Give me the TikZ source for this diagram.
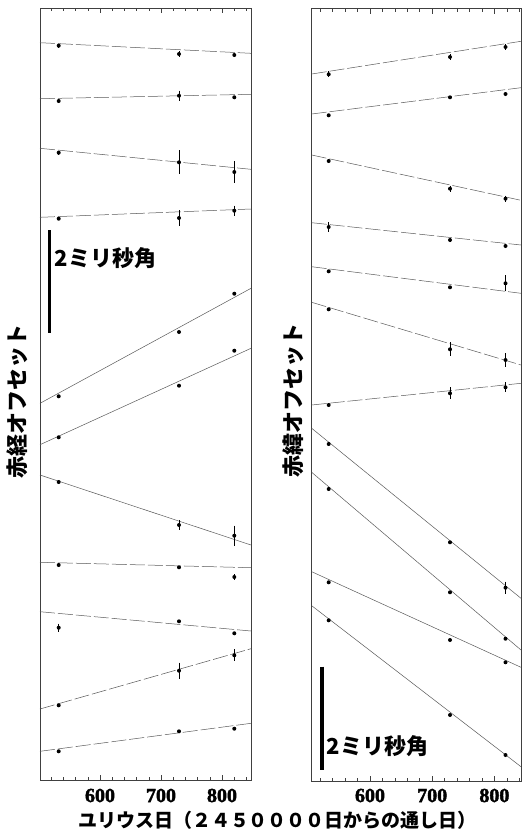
\documentclass[tikz,border=0pt]{standalone}
\usepackage{fontspec}
\setmainfont{Liberation Serif}
\newfontfamily\tickfont{Liberation Serif Bold}[FakeBold=2]
\newfontfamily\jpfont{Noto Sans CJK JP}
\usetikzlibrary{positioning}
\tikzset{
    frame/.style={draw=black!75, line width=0.8pt},
    fitsolid/.style={draw=black!65, line width=0.5pt},
    fitdash/.style={fitsolid, dash pattern=on 15pt off 3pt},
    dot/.style={circle, fill=black, draw=none, inner sep=0pt, minimum size=4pt},
    ebar/.style={draw=black, line width=0.8pt},
    scalebar/.style={draw=black, line width=3.6pt},
    ticklab/.style={font=\tickfont\fontsize{20}{20}\selectfont, inner sep=0pt},
    ylab/.style={font=\jpfont\bfseries\fontsize{22}{22}\selectfont, rotate=90, inner sep=0pt},
    barlab/.style={font=\jpfont\bfseries\fontsize{22}{22}\selectfont, anchor=west, inner sep=0pt},
    xlab/.style={font=\jpfont\bfseries\fontsize{19}{19}\selectfont, inner sep=0pt}
}

\begin{document}
\begin{tikzpicture}[x=1pt, y=-1pt]
    \useasboundingbox (0,0) rectangle (522,839);

    % left panel (right ascension)
    \coordinate (lnw) at (40,8);
    \coordinate (lse) at (251,780);
    \draw[frame] (lnw) rectangle (lse);
    \foreach \day in {520,540,...,840} {
        \draw[frame, line width=0.6pt] ({100+(\day-600)*0.61},780) -- ++(0,-3);
        \draw[frame, line width=0.6pt] ({100+(\day-600)*0.61},8) -- ++(0,3);
    }
    \foreach \day in {600,700,800} {
        \draw[frame, line width=0.6pt] ({100+(\day-600)*0.61},780) -- ++(0,-5);
        \draw[frame, line width=0.6pt] ({100+(\day-600)*0.61},8) -- ++(0,5);
        \node[ticklab] (lt\day) at ({100+(\day-600)*0.61},795.5) {\day};
    }

    \foreach \n/\s/\ya/\yb/\pa/\ea/\pb/\eb/\pc/\ec in {
        1/fitdash/42.7/53.3/45.7/2/54/3/55/2,
        2/fitdash/98.7/94.3/101/0/95.7/5/97.3/0,
        3/fitdash/148.3/169.3/152.7/2/162.3/12/172/11,
        4/fitdash/217.3/209/218.7/0/218/7.7/210.7/5,
        5/fitsolid/403.3/288.3/396.3/0/332/0/293.7/0,
        6/fitsolid/444.7/348.3/437.3/0/385.7/0/350.7/0,
        7/fitsolid/475/545/482/0/525/5/535.7/10,
        8/fitdash/562.3/567.7/565/0/567.3/0/577/3,
        9/fitdash/611.7/631/627.7/4/621.3/0/633.3/0,
        10/fitdash/709/648.7/705.3/0/670.7/8/655.3/6,
        11/fitdash/751.3/723.3/751.3/0/731.3/0/728.7/0} {
        \coordinate (l\n s) at (40,\ya);
        \coordinate (l\n e) at (251,\yb);
        \draw[\s] (l\n s) -- (l\n e);
        \node[dot] (l\n a) at (58.7,\pa) {};
        \node[dot] (l\n b) at (179,\pb) {};
        \node[dot] (l\n c) at (234.3,\pc) {};
        \draw[ebar] ([yshift=\ea pt]l\n a.center) -- ([yshift=-\ea pt]l\n a.center);
        \draw[ebar] ([yshift=\eb pt]l\n b.center) -- ([yshift=-\eb pt]l\n b.center);
        \draw[ebar] ([yshift=\ec pt]l\n c.center) -- ([yshift=-\ec pt]l\n c.center);
    }

    \coordinate (lbar1) at (49.3,230);
    \coordinate (lbar2) at (49.3,333);
    \draw[scalebar] (lbar1) -- (lbar2);
    \node[barlab] (lbartext) at (54.5,258.5) {2ミリ秒角};
    \node[ylab] (lylab) at (17.5,401.5) {赤経オフセット};

    % right panel (declination)
    \coordinate (rnw) at (311.7,8.5);
    \coordinate (rse) at (521,781);
    \draw[frame] (rnw) rectangle (rse);
    \foreach \day in {520,540,...,840} {
        \draw[frame, line width=0.6pt] ({370+(\day-600)*0.622},781) -- ++(0,-3);
        \draw[frame, line width=0.6pt] ({370+(\day-600)*0.622},8.5) -- ++(0,3);
    }
    \foreach \day in {600,700,800} {
        \draw[frame, line width=0.6pt] ({370+(\day-600)*0.622},781) -- ++(0,-5);
        \draw[frame, line width=0.6pt] ({370+(\day-600)*0.622},8.5) -- ++(0,5);
        \node[ticklab] (rt\day) at ({370+(\day-600)*0.622},795.5) {\day};
    }

    \foreach \n/\s/\ya/\yb/\pa/\ea/\pb/\eb/\pc/\ec in {
        1/fitdash/74/41.3/74.3/3/57/3/47/3,
        2/fitdash/114/87.7/115.3/0/97.3/0/94/0,
        3/fitdash/155/200.3/161/0/188.7/3/198.7/3,
        4/fitdash/222.7/245/227/5/240/2/246/0,
        5/fitdash/266.7/293.3/271.3/0/287.3/0/283.3/8,
        6/fitdash/302.3/365/309.3/0/349.3/7/360/7,
        7/fitdash/405/383.3/405/0/393.3/6/387.3/5,
        8/fitsolid/428.3/598.3/444/0/542.3/0/587.7/6,
        9/fitsolid/472.3/650/489/0/592.3/0/638.7/0,
        10/fitsolid/571.7/667.3/582.3/0/640/0/662.3/0,
        11/fitsolid/605.7/766.7/620.3/0/715/0/755/0} {
        \coordinate (r\n s) at (311.7,\ya);
        \coordinate (r\n e) at (521,\yb);
        \draw[\s] (r\n s) -- (r\n e);
        \node[dot] (r\n a) at (328.7,\pa) {};
        \node[dot] (r\n b) at (450,\pb) {};
        \node[dot] (r\n c) at (505.5,\pc) {};
        \draw[ebar] ([yshift=\ea pt]r\n a.center) -- ([yshift=-\ea pt]r\n a.center);
        \draw[ebar] ([yshift=\eb pt]r\n b.center) -- ([yshift=-\eb pt]r\n b.center);
        \draw[ebar] ([yshift=\ec pt]r\n c.center) -- ([yshift=-\ec pt]r\n c.center);
    }

    \coordinate (rbar1) at (321.7,666.7);
    \coordinate (rbar2) at (321.7,770);
    \draw[scalebar] (rbar1) -- (rbar2);
    \node[barlab] (rbartext) at (326.5,746.5) {2ミリ秒角};
    \node[ylab] (rylab) at (293.3,400) {赤緯オフセット};

    \node[xlab] (xlab) at (277.5,820.5) {ユリウス日（２４５００００日からの通し日）};
\end{tikzpicture}
\end{document}
